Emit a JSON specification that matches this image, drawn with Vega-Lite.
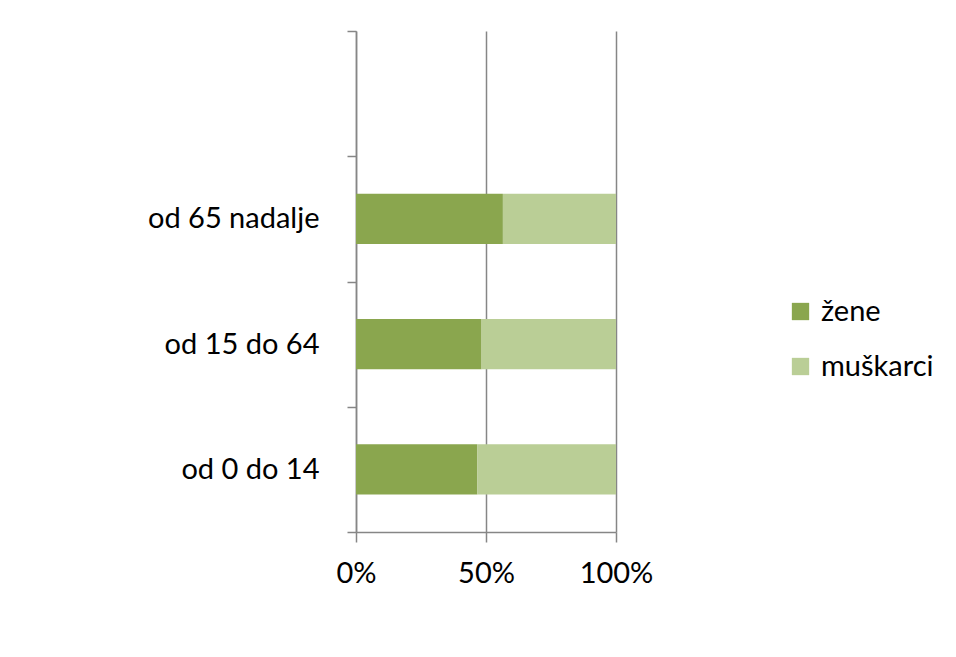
{
  "$schema": "https://vega.github.io/schema/vega-lite/v6.json",
  "width": 260,
  "height": 501,
  "autosize": {"type": "none"},
  "padding": {"left": 356, "top": 31, "right": 340, "bottom": 125},
  "background": "white",
  "data": {
    "values": [
      {"dob": "od 65 nadalje", "spol": "žene", "vrijednost": 56.5},
      {"dob": "od 65 nadalje", "spol": "muškarci", "vrijednost": 43.5},
      {"dob": "od 15 do 64", "spol": "žene", "vrijednost": 48.3},
      {"dob": "od 15 do 64", "spol": "muškarci", "vrijednost": 51.7},
      {"dob": "od 0 do 14", "spol": "žene", "vrijednost": 46.7},
      {"dob": "od 0 do 14", "spol": "muškarci", "vrijednost": 53.3}
    ]
  },
  "mark": {"type": "bar", "height": {"band": 0.4}},
  "encoding": {
    "y": {
      "field": "dob",
      "type": "nominal",
      "scale": {
        "domain": [" ", "od 65 nadalje", "od 15 do 64", "od 0 do 14"],
        "paddingInner": 0,
        "paddingOuter": 0
      },
      "axis": {
        "title": null,
        "tickBand": "extent",
        "tickSize": 9,
        "tickWidth": 1.5,
        "tickColor": "#868686",
        "domainColor": "#868686",
        "domainWidth": 1.5,
        "labelFont": "Lato",
        "labelFontSize": 29,
        "labelColor": "#000000",
        "labelPadding": 28,
        "grid": false
      }
    },
    "x": {
      "field": "vrijednost",
      "type": "quantitative",
      "stack": "normalize",
      "scale": {"domain": [0, 1], "nice": false},
      "axis": {
        "title": null,
        "values": [0, 0.5, 1],
        "format": "%",
        "tickSize": 10,
        "tickWidth": 1.5,
        "tickColor": "#868686",
        "domainColor": "#868686",
        "domainWidth": 1.5,
        "gridColor": "#868686",
        "gridWidth": 1.5,
        "grid": true,
        "labelFlush": false,
        "labelOverlap": false,
        "labelFont": "Lato",
        "labelFontSize": 29,
        "labelColor": "#000000",
        "labelPadding": 17
      }
    },
    "order": {"field": "spol", "sort": "descending"},
    "color": {
      "field": "spol",
      "type": "nominal",
      "sort": ["žene", "muškarci"],
      "scale": {"domain": ["žene", "muškarci"], "range": ["#8AA64E", "#BACE96"]},
      "legend": {
        "title": null,
        "orient": "none",
        "legendX": 430,
        "legendY": 266,
        "symbolType": "square",
        "symbolSize": 300,
        "symbolStrokeWidth": 0,
        "labelFont": "Lato",
        "labelFontSize": 29,
        "labelColor": "#000000",
        "rowPadding": 25,
        "labelOffset": 6
      }
    }
  },
  "config": {
    "view": {"stroke": null}
  }
}
